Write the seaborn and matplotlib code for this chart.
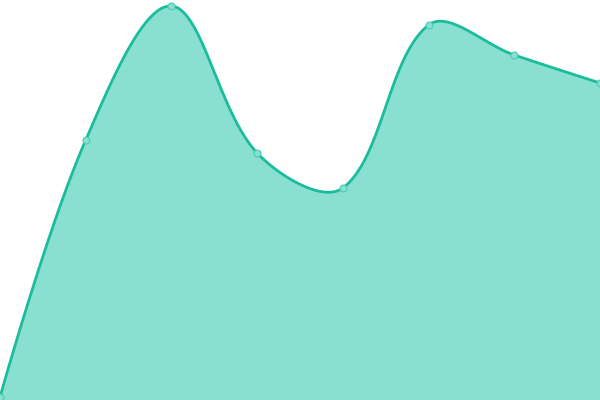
import numpy as np
import matplotlib
matplotlib.use("Agg")
import matplotlib.pyplot as plt
import seaborn as sns
import pandas as pd

# data
categories = [0, 1, 2, 3, 4, 5, 6, 7]
values = [3, 260, 394, 247, 212, 375, 345, 317]

LINE = "#1abc9c"
FILL = "#8ae0d0"
MARK_EDGE = "#4ccfb4"

sns.set_theme(style="white")

fig = plt.figure(figsize=(6, 4), dpi=100)
ax = fig.add_axes([0, 0, 1, 1])
xmin, xmax, ymin, ymax = 0, 7, 0, 400
ax.set_xlim(xmin, xmax)
ax.set_ylim(ymin, ymax)

# smooth path (bezier smoothing computed in pixel space)
W, H = 600, 400
px = np.array([(c - xmin) / (xmax - xmin) * W for c in categories], float)
py = np.array([(v - ymin) / (ymax - ymin) * H for v in values], float)
pts = np.column_stack([px, py])
smooth = 0.35
n = len(pts)
cps = []
for i in range(n):
    cur = pts[i]
    if i == 0 or i == n - 1:
        cps.append((cur.copy(), cur.copy()))
        continue
    prev, nxt = pts[i - 1], pts[i + 1]
    v = nxt - prev
    d0 = np.linalg.norm(cur - prev)
    d1 = np.linalg.norm(nxt - cur)
    s = d0 + d1
    d0, d1 = d0 / s, d1 / s
    cps.append((cur - v * smooth * d0, cur + v * smooth * d1))

curve = []
t = np.linspace(0, 1, 60)[:, None]
for i in range(n - 1):
    p0 = pts[i]
    c1 = cps[i][1]
    c2 = cps[i + 1][0]
    p3 = pts[i + 1]
    seg = ((1 - t) ** 3) * p0 + 3 * ((1 - t) ** 2) * t * c1 + 3 * (1 - t) * t ** 2 * c2 + t ** 3 * p3
    curve.append(seg if i == 0 else seg[1:])
curve = np.vstack(curve)
cx = curve[:, 0] / W * (xmax - xmin) + xmin
cy = curve[:, 1] / H * (ymax - ymin) + ymin

ax.fill_between(cx, ymin, cy, color=FILL, linewidth=0, zorder=1)
ax.plot(cx, cy, color=LINE, linewidth=2.0, zorder=2, solid_capstyle="round")

df = pd.DataFrame({"x": categories, "y": values})
sns.scatterplot(data=df, x="x", y="y", ax=ax, s=24, color=FILL,
                edgecolor=MARK_EDGE, linewidth=0.9, zorder=3, clip_on=False)

ax.set_axis_off()
fig.savefig("out.png", dpi=100)
